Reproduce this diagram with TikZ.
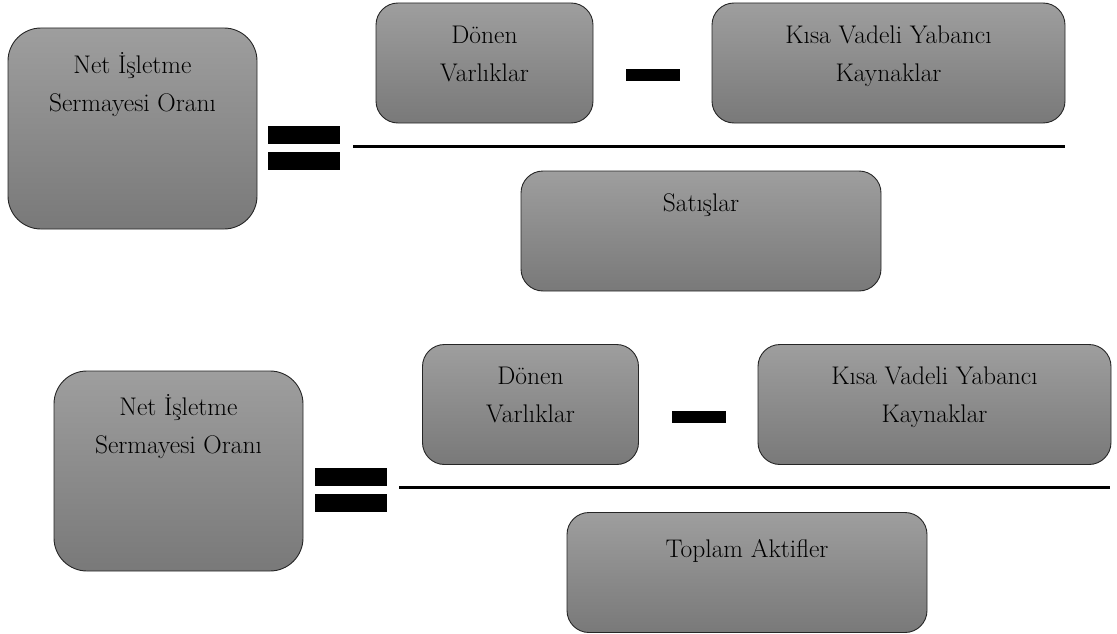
\documentclass[tikz,border=0pt]{standalone}
\usepackage{fontspec}
\usetikzlibrary{positioning}
\definecolor{ustgri}{RGB}{158,158,158}
\definecolor{altgri}{RGB}{121,121,121}

\begin{document}
\begin{tikzpicture}[x=1pt,y=-1pt,node distance=14pt,
	kutu/.style={draw=black!85,line width=0.9pt,top color=ustgri,bottom color=altgri,rounded corners=22pt,inner sep=0pt},
	metin/.style={inner sep=0pt,align=center,font=\fontsize{25.5}{38}\selectfont},
	cubuk/.style={fill=black,inner sep=0pt,minimum width=72pt,minimum height=18pt},
	eksi/.style={fill=black,inner sep=0pt,minimum width=54pt,minimum height=12pt}]
	\useasboundingbox (0,0) rectangle (1117,634);
	
	% ust oran
	\node[kutu,rounded corners=33pt,minimum width=249pt,minimum height=201pt] (NIS)  at (132.5,128.5) {};
	\node[kutu,minimum width=217pt,minimum height=120pt] (DV)   at (484.5,63) {};
	\node[kutu,minimum width=353pt,minimum height=120pt] (KVYK) at (888.5,63) {};
	\node[kutu,minimum width=360pt,minimum height=120pt] (SAT)  at (701,231) {};
	
	\node[metin] (NISt)  [below=19pt of NIS.north]  {\strut Net İşletme\\Sermayesi Oranı};
	\node[metin] (DVt)   [below=of DV.north]   {\strut Dönen\\Varlıklar};
	\node[metin] (KVYKt) [below=of KVYK.north] {\strut Kısa Vadeli Yabancı\\Kaynaklar};
	\node[metin] (SATt)  [below=of SAT.north]  {\strut Satışlar};
	
	\node[cubuk] (E1a) at (304,135) {};
	\node[cubuk] (E1b) at (304,160.5) {};
	\node[eksi]  (M1)  at (652.5,75) {};
	
	\coordinate (L1a) at (353,146.5);
	\coordinate (L1b) at (1065,146.5);
	\draw[line width=2.7pt] (L1a) -- (L1b);
	
	% alt oran
	\node[kutu,rounded corners=33pt,minimum width=249pt,minimum height=200pt] (NIS2) at (178.5,471) {};
	\node[kutu,minimum width=216pt,minimum height=120pt] (DV2)   at (530.5,404.5) {};
	\node[kutu,minimum width=353pt,minimum height=120pt] (KVYK2) at (934.5,404.5) {};
	\node[kutu,minimum width=360pt,minimum height=120pt] (TA)    at (747,572.5) {};
	
	\node[metin] (NIS2t)  [below=18pt of NIS2.north]  {\strut Net İşletme\\Sermayesi Oranı};
	\node[metin] (DV2t)   [below=of DV2.north]   {\strut Dönen\\Varlıklar};
	\node[metin] (KVYK2t) [below=of KVYK2.north] {\strut Kısa Vadeli Yabancı\\Kaynaklar};
	\node[metin] (TAt)    [below=19pt of TA.north]  {\strut Toplam Aktifler};
	
	\node[cubuk] (E2a) at (351,477) {};
	\node[cubuk] (E2b) at (351,502.5) {};
	\node[eksi]  (M2)  at (698.5,416.5) {};
	
	\coordinate (L2a) at (399,487.5);
	\coordinate (L2b) at (1110,487.5);
	\draw[line width=2.7pt] (L2a) -- (L2b);
\end{tikzpicture}
\end{document}
